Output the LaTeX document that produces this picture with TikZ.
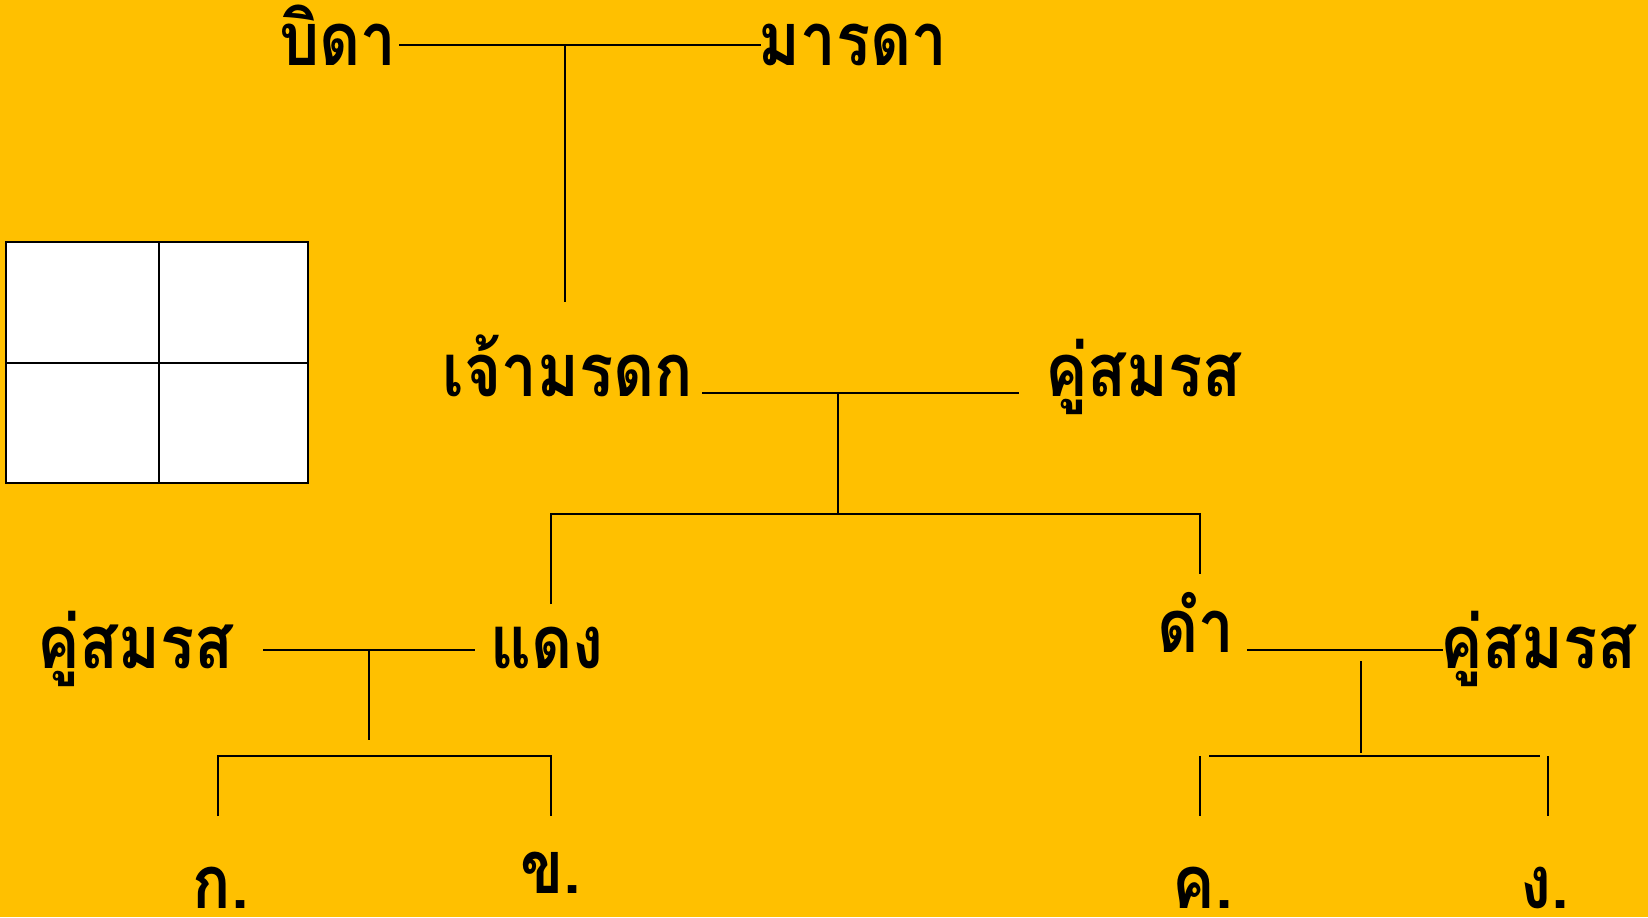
\documentclass[tikz,border=0pt]{standalone}
\usepackage{fontspec}
\usepackage{xcolor}
\usepackage{tikz}
\usetikzlibrary{positioning, calc}
\newfontfamily\thaifont[Script=Thai]{Loma}
\definecolor{bgYellow}{RGB}{255, 192, 0}

\tikzset{
    person/.style={font=\thaifont\bfseries\fontsize{21}{25}\selectfont, anchor=base, inner sep=0pt, xscale=0.86},
    heir/.style={person, text depth=0pt},
    link/.style={line width=0.7pt, black}
}

\begin{document}
\begin{tikzpicture}[x=0.01cm, y=-0.01cm]
        \fill[bgYellow] (0,0) rectangle (1648,917);
        \useasboundingbox (0,0) rectangle (1648,917);

        % Names
        \node[person] (father) at (338,65) {บิดา};
        \node[person] (mother) at (853,65) {มารดา};
        \node[person] (owner) at (568,396) {เจ้ามรดก};
        \node[person] (spouse) at (1143,396) {คู่สมรส};
        \node[person] (spouseL) at (135,668) {คู่สมรส};
        \node[person] (daeng) at (547,668) {แดง};
        \node[person] (dam) at (1196,652) {ดำ};
        \node[person] (spouseR) at (1538,668) {คู่สมรส};
        \node[heir] (ka) at (221,908) {ก.};
        \node[heir] (kha) at (551,893) {ข.};
        \node[heir] (kho) at (1203,908) {ค.};
        \node[heir] (ngo) at (1545,908) {ง.};

        % Table
        \draw[link, fill=white] (6,242) rectangle (308,483);
        \draw[link] (159,242) -- (159,483);
        \draw[link] (6,363) -- (308,363);

        % Parents
        \coordinate (P1) at (399,45);
        \coordinate (P2) at (761,45);
        \coordinate (P3) at (565,45);
        \coordinate (P4) at (565,302);
        \draw[link] (P1) -- (P2);
        \draw[link] (P3) -- (P4);

        % Owner and spouse
        \coordinate (O1) at (702,393);
        \coordinate (O2) at (1019,393);
        \coordinate (O3) at (838,393);
        \coordinate (O4) at (838,514);
        \coordinate (C1) at (551,514);
        \coordinate (C2) at (1200,514);
        \coordinate (C3) at (551,604);
        \coordinate (C4) at (1200,574);
        \draw[link] (O1) -- (O2);
        \draw[link] (O3) -- (O4);
        \draw[link] (C3) -- (C1) -- (C2) -- (C4);

        % Daeng
        \coordinate (D1) at (263,650);
        \coordinate (D2) at (475,650);
        \coordinate (D3) at (369,650);
        \coordinate (D4) at (369,740);
        \coordinate (G1) at (218,816);
        \coordinate (G2) at (218,756);
        \coordinate (G3) at (551,756);
        \coordinate (G4) at (551,816);
        \draw[link] (D1) -- (D2);
        \draw[link] (D3) -- (D4);
        \draw[link] (G1) -- (G2) -- (G3) -- (G4);

        % Dam
        \coordinate (M1) at (1247,650);
        \coordinate (M2) at (1443,650);
        \coordinate (M3) at (1361,661);
        \coordinate (M4) at (1361,753);
        \coordinate (H1) at (1209,756);
        \coordinate (H2) at (1540,756);
        \coordinate (H3) at (1200,756);
        \coordinate (H4) at (1200,816);
        \coordinate (H5) at (1548,756);
        \coordinate (H6) at (1548,816);
        \draw[link] (M1) -- (M2);
        \draw[link] (M3) -- (M4);
        \draw[link] (H1) -- (H2);
        \draw[link] (H3) -- (H4);
        \draw[link] (H5) -- (H6);
    \end{tikzpicture}
\end{document}
